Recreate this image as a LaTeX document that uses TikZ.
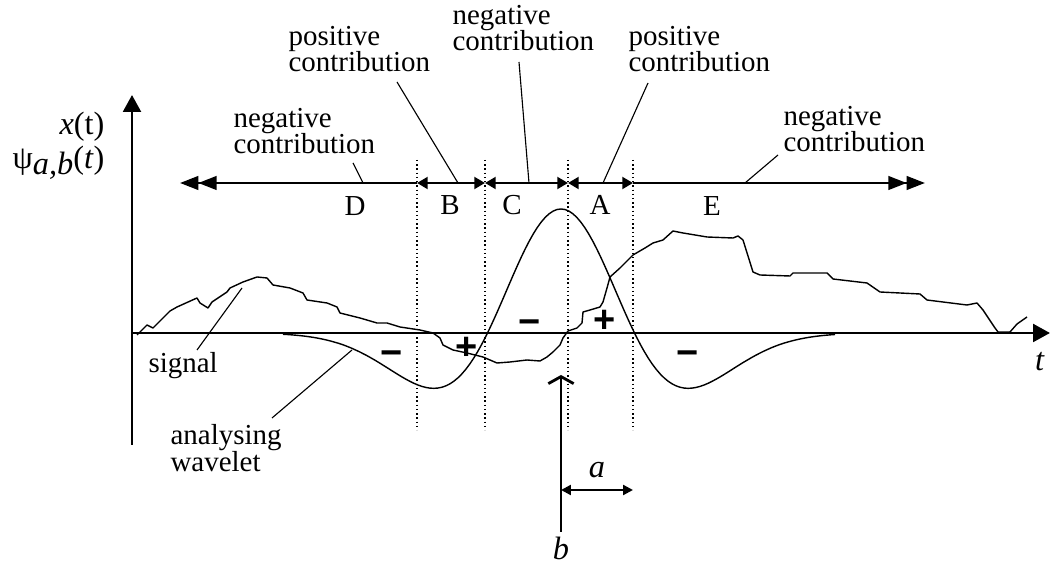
\documentclass[tikz,border=0pt]{standalone}
\usepackage{fontspec}
\setmainfont{Liberation Serif}
\newfontfamily\signfam{Liberation Sans}
\usetikzlibrary{arrows.meta}

\newcommand{\geo}{
\def\yax{333}    % time axis
\def\ytop{183}   % contribution arrows
\def\bpos{561}   % wavelet centre (b)
\def\wsig{73.5}  % wavelet width
\def\wamp{124}   % wavelet height
}
\newcommand{\pxs}{0.0125}
\newcommand{\lblfont}{\fontsize{10.3}{9.5}\selectfont\lineskiplimit=-9pt}

\tikzset{
  lbl/.style={font=\lblfont, inner sep=0pt, align=left, anchor=west},
  lett/.style={font=\lblfont, inner sep=0pt},
  sym/.style={font=\fontsize{11.5}{13}\selectfont, inner sep=0pt},
  sgn/.style={font=\signfam\bfseries\fontsize{13.5}{14}\selectfont, inner sep=0pt, anchor=base},
  leader/.style={line width=0.4pt},
  guide/.style={densely dotted, line width=0.5pt},
  curve/.style={line width=0.5pt, line join=round},
  axis/.style={line width=1pt, -{Triangle[length=6pt,width=6.3pt]}},
  seg/.style={line width=0.9pt, {Triangle[length=3.8pt,width=4.2pt]}-{Triangle[length=3.8pt,width=4.2pt]}},
  endarr/.style={line width=0.9pt, -{Triangle[length=6.5pt,width=4.8pt,sep=0pt]Triangle[length=6.5pt,width=4.8pt]}},
  barr/.style={line width=1pt, -{Straight Barb[length=2.5pt,width=9pt]}},
  aarr/.style={line width=0.8pt, {Triangle[length=3.5pt,width=3.5pt]}-{Triangle[length=3.5pt,width=3.5pt]}},
}

\begin{document}
\begin{tikzpicture}[x=\pxs cm, y=-\pxs cm]
      \geo
      \useasboundingbox (0,0) rectangle (1051,563);
%
      \coordinate (o) at (132,\yax);
      \coordinate (ytip) at (132,95);
      \coordinate (ybot) at (132,445);
      \coordinate (xtip) at (1050,\yax);
      \draw[axis] (ybot) -- (ytip);
      \draw[axis] (o) -- (xtip);
      \node[sym, anchor=east] (xlab) at (105,127) {\textit{x}(t)};
      \node[sym, anchor=east] (psilab) at (105,163) {ψ\raisebox{-0.4ex}{\textit{a,b}}(\textit{t})};
      \node[sym] (tlab) at (1040,362) {\textit{t}};
%
      \draw[guide] (417,160) -- (417,430);
      \draw[guide] (485,160) -- (485,430);
      \draw[guide] (568,160) -- (568,430);
      \draw[guide] (633,160) -- (633,430);
%
      \coordinate (dl) at (180,\ytop);
      \coordinate (d1) at (417,\ytop);
      \coordinate (d2) at (485,\ytop);
      \coordinate (d3) at (568,\ytop);
      \coordinate (d4) at (633,\ytop);
      \coordinate (dr) at (925,\ytop);
      \draw[endarr] (d1) -- (dl);
      \draw[seg] (d1) -- (d2);
      \draw[seg] (d2) -- (d3);
      \draw[seg] (d3) -- (d4);
      \draw[endarr] (d4) -- (dr);
      \node[lett] (segD) at (355,206) {D};
      \node[lett] (segB) at (450,205) {B};
      \node[lett] (segC) at (512,205) {C};
      \node[lett] (segA) at (600,205) {A};
      \node[lett] (segE) at (712,206) {E};
%
      \node[lbl] (negD) at (233,131) {negative\\contribution};
      \node[lbl] (posB) at (288,49) {positive\\contribution};
      \node[lbl] (negC) at (452,28) {negative\\contribution};
      \node[lbl] (posA) at (628,49) {positive\\contribution};
      \node[lbl] (negE) at (783,129) {negative\\contribution};
      \draw[leader] (353,163) -- (363,\ytop);
      \draw[leader] (397,82) -- (458,\ytop);
      \draw[leader] (519,62) -- (529,\ytop);
      \draw[leader] (648,83) -- (603,\ytop);
      \draw[leader] (778,155) -- (745,\ytop);
%
      % signal
      \draw[curve] plot coordinates {(137,335) (147,325) (153,328) (170,311) (177,307)
        (197,298) (200,303) (208,308) (212,302) (227,292) (230,288) (243,282)
        (257,277) (267,278) (273,285) (290,288) (303,293) (307,300) (327,303)
        (337,307) (340,313) (360,318) (377,323) (387,323) (400,327) (420,330)
        (433,333) (440,338) (443,345) (453,350) (467,353) (483,357) (497,363)
        (510,362) (527,360) (540,361) (547,357) (553,352) (560,345) (563,338)
        (568,331) (577,328) (582,323) (583,312) (590,310) (600,307) (603,302)
        (607,288) (610,277) (620,268) (633,255) (645,248) (653,243) (663,240)
        (673,231) (683,233) (707,237) (733,238) (738,236) (743,240) (753,272)
        (760,275) (790,276) (793,273) (827,273) (833,279) (867,283) (880,292)
        (920,294) (927,300) (967,305) (977,303) (983,310) (995,328) (998,332)
        (1010,332) (1017,324) (1027,317)};
      % analysing wavelet
      \draw[curve] plot[domain=283:835, samples=140]
        (\x, {\yax - \wamp*(1-((\x-\bpos)/\wsig)^2)*exp(-0.5*((\x-\bpos)/\wsig)^2)});
%
      \node[lbl] (siglab) at (148,366) {signal};
      \node[lbl] (wavlab) at (170,448) {analysing\\wavelet};
      \draw[leader] (197,350) -- (242,288);
      \draw[leader] (272,418) -- (352,350);
%
      \node[sgn] (m1) at (392,366) {−};
      \node[sgn] (p1) at (467,360) {+};
      \node[sgn] (m2) at (530,335) {−};
      \node[sgn] (p2) at (605,333) {+};
      \node[sgn] (m3) at (688,366) {−};
%
      \coordinate (bbot) at (\bpos,532);
      \coordinate (btip) at (\bpos,375);
      \draw[barr] (bbot) -- (btip);
      \node[sym] (blab) at (\bpos,548) {\textit{b}};
      \coordinate (aL) at (\bpos,490);
      \coordinate (aR) at (633,490);
      \draw[aarr] (aL) -- (aR);
      \node[sym] (alab) at (597,470) {\textit{a}};
    \end{tikzpicture}
\end{document}
